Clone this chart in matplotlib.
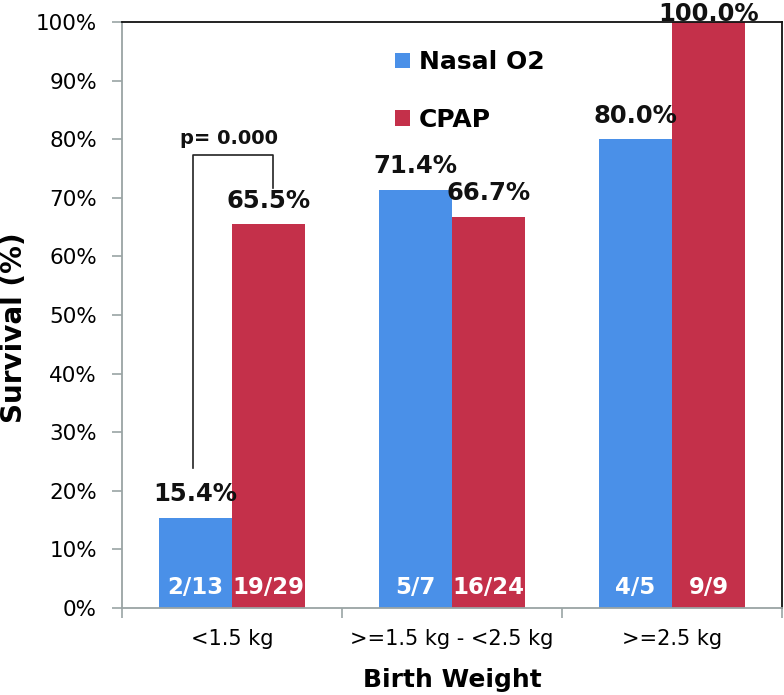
import matplotlib
matplotlib.use("Agg")
import matplotlib.pyplot as plt
import numpy as np
from matplotlib.ticker import FixedLocator, PercentFormatter

plt.rcParams['font.family'] = ['DejaVu Sans']

categories = ['<1.5 kg', '>=1.5 kg - <2.5 kg', '>=2.5 kg']
series_names = ['Nasal O2', 'CPAP']
nasal_o2 = [15.4, 71.4, 80.0]
cpap = [65.5, 66.7, 100.0]
nasal_counts = ['2/13', '5/7', '4/5']
cpap_counts = ['19/29', '16/24', '9/9']
p_text = 'p= 0.000'
y_ticks = [0, 10, 20, 30, 40, 50, 60, 70, 80, 90, 100]

blue = '#4A90E8'
red = '#C4304A'

W, H = 784, 695
fig = plt.figure(figsize=(W / 100, H / 100), dpi=100)
ax = fig.add_axes([122 / W, (H - 608) / H, 660 / W, 586 / H])

x = np.arange(len(categories))
bw = 0.333
b1 = ax.bar(x - bw / 2, nasal_o2, bw, color=blue, label=series_names[0], zorder=2)
b2 = ax.bar(x + bw / 2, cpap, bw, color=red, label=series_names[1], zorder=2)

ax.set_xlim(-0.5, len(categories) - 0.5)
ax.set_ylim(0, 100)

# value labels
for bars, vals in ((b1, nasal_o2), (b2, cpap)):
    for rect, v in zip(bars, vals):
        off = 1 if v >= 100 else 12
        ax.annotate(f'{v:.1f}%', (rect.get_x() + rect.get_width() / 2, v),
                    xytext=(0, off), textcoords='offset points',
                    ha='center', va='baseline', fontsize=17.5, fontweight='bold',
                    color='#111111', zorder=4, annotation_clip=False)

# counts inside bars
for bars, labels in ((b1, nasal_counts), (b2, cpap_counts)):
    for rect, t in zip(bars, labels):
        ax.text(rect.get_x() + rect.get_width() / 2, 3.5, t, ha='center', va='center',
                fontsize=16.5, fontweight='bold', color='white', zorder=3)

# p-value bracket
xl, xr = x[0] - bw / 2 - 0.01, x[0] + bw / 2 + 0.02
ytop = 77.3
ax.plot([xl, xl, xr, xr], [nasal_o2[0] + 8.5, ytop, ytop, cpap[0] + 6.2],
        color='#222222', lw=1.2, zorder=3)
ax.text((xl + xr) / 2 - 0.02, ytop + 1.8, p_text, ha='center', va='baseline',
        fontsize=14, fontweight='bold', color='#111111')

# axes styling
ax.yaxis.set_major_locator(FixedLocator(y_ticks))
ax.yaxis.set_major_formatter(PercentFormatter(decimals=0))
ax.set_xticks(x)
ax.set_xticklabels(categories)
ax.set_xticks(np.arange(len(categories) + 1) - 0.5, minor=True)
ax.tick_params(axis='x', which='major', length=0, pad=15, labelsize=15)
ax.tick_params(axis='x', which='minor', length=7, direction='out', color='#9aa4a4', width=1.2)
ax.tick_params(axis='y', length=7, direction='out', color='#9aa4a4', width=1.2,
               pad=11, labelsize=15.5)

for s in ('left', 'bottom'):
    ax.spines[s].set_color('#9aa4a4')
    ax.spines[s].set_linewidth(1.3)
for s in ('top', 'right'):
    ax.spines[s].set_color('#111111')
    ax.spines[s].set_linewidth(1.3)

ax.set_ylabel('Survival (%)', fontsize=20, fontweight='bold')
ax.yaxis.set_label_coords(-0.142, 0.478)
ax.set_xlabel('Birth Weight', fontsize=18, fontweight='bold', labelpad=14)

leg = ax.legend(loc='upper left', bbox_to_anchor=(0.380, 0.99), frameon=False,
                prop={'size': 18, 'weight': 'bold'}, handlelength=0.6,
                handleheight=0.6, handletextpad=0.35, labelspacing=1.35)

fig.savefig('out.png', dpi=100)
